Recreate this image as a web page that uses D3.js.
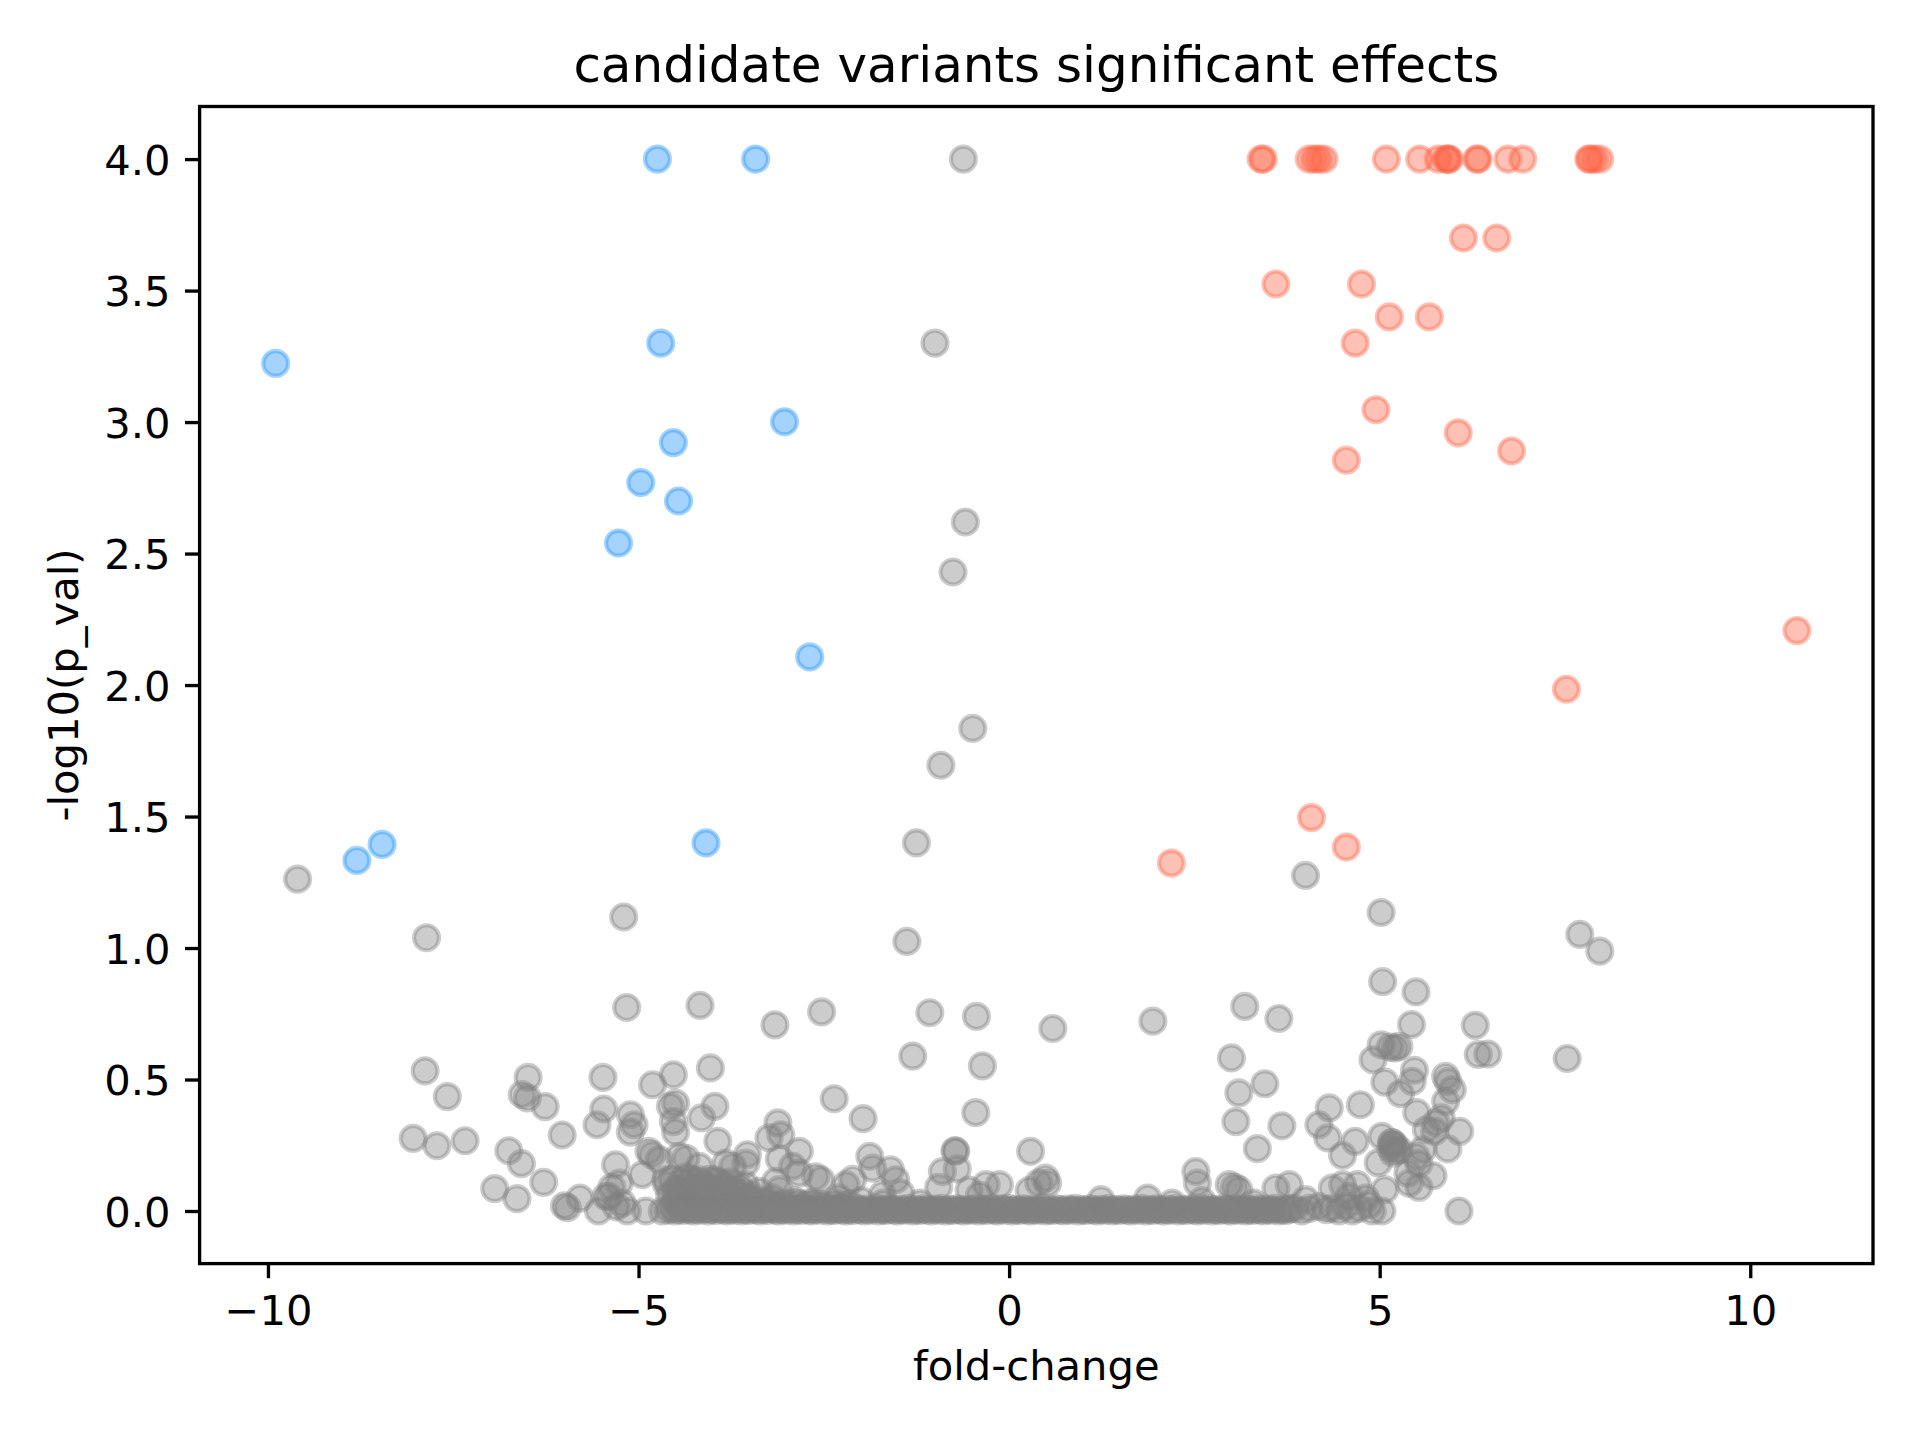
<!DOCTYPE html>
<html>
<head>
<meta charset="utf-8">
<script src="https://cdn.jsdelivr.net/npm/d3@7"></script>
<style>
  body { margin: 0; background: #fff; }
  svg text { font-family: "DejaVu Sans", sans-serif; fill: #000; }
</style>
</head>
<body>
<div id="chart"></div>
<script>
// [fold-change, -log10(p_val)]
var downHits = [
  [-4.745, 4.0], [-3.42, 4.0], [-9.896, 3.223], [-4.70, 3.30], [-3.03, 3.001],
  [-4.53, 2.922], [-4.97, 2.77], [-4.46, 2.70], [-5.27, 2.54], [-2.69, 2.107],
  [-8.46, 1.394], [-8.80, 1.333], [-4.09, 1.40]
];

var upHits = [
  [3.40, 4.0], [3.43, 4.0], [4.05, 4.0], [4.12, 4.0], [4.18, 4.0], [4.25, 4.0],
  [5.09, 4.0], [5.54, 4.0], [5.79, 4.0], [5.90, 4.0], [5.92, 4.0], [5.94, 4.0],
  [6.31, 4.0], [6.33, 4.0], [6.73, 4.0], [6.93, 4.0], [7.82, 4.0], [7.84, 4.0],
  [7.90, 4.0], [7.97, 4.0],
  [6.13, 3.70], [6.58, 3.70], [3.60, 3.525], [4.755, 3.525], [5.13, 3.40],
  [5.67, 3.40], [4.67, 3.30], [4.95, 3.047], [6.06, 2.959], [6.78, 2.89],
  [4.55, 2.855], [10.63, 2.207], [7.52, 1.984], [4.08, 1.496], [4.55, 1.384],
  [2.19, 1.323]
];

var otherVariants = [
  [-0.617, 4.0], [-1.0, 3.30], [-0.59, 2.62], [-0.757, 2.43], [-0.49, 1.835],
  [-0.92, 1.695], [-1.25, 1.40], [-9.60, 1.262], [-5.20, 1.118], [-7.86, 1.039],
  [-1.38, 1.025], [4.00, 1.276], [5.02, 1.135], [7.70, 1.052], [7.97, 0.988],
  [5.04, 0.872], [5.49, 0.833],
  [-5.16, 0.774], [-4.17, 0.782], [-3.16, 0.708], [-2.53, 0.757], [-1.07, 0.754],
  [-0.44, 0.740], [0.59, 0.694], [1.94, 0.722], [3.18, 0.778], [3.64, 0.732],
  [5.43, 0.709], [6.29, 0.706], [6.33, 0.595], [6.46, 0.597], [7.53, 0.58],
  [5.02, 0.632], [5.14, 0.623], [5.21, 0.62], [5.26, 0.626],
  [4.91, 0.575], [5.47, 0.535], [5.44, 0.493], [5.07, 0.49], [5.28, 0.446],
  [3.0, 0.582], [3.10, 0.449], [3.45, 0.484], [3.06, 0.34], [3.68, 0.324], [3.35, 0.237],
  [5.89, 0.512], [5.92, 0.493], [5.98, 0.461], [5.89, 0.417], [5.83, 0.354],
  [5.74, 0.303], [6.08, 0.303], [5.92, 0.236], [5.72, 0.134], [5.58, 0.233],
  [5.53, 0.18], [6.07, 0.0], [5.53, 0.09], [5.50, 0.374],
  [5.07, 0.081], [4.98, 0.183], [5.16, 0.259], [5.03, 0.284], [5.26, 0.233],
  [5.40, 0.106], [5.38, 0.144], [5.49, 0.208], [5.63, 0.309], [5.76, 0.335],
  [5.15, 0.24], [5.18, 0.22], [5.20, 0.25], [5.22, 0.23], [5.17, 0.26],
  [4.18, 0.328], [4.32, 0.392], [4.30, 0.278], [4.74, 0.404], [4.67, 0.265], [4.50, 0.211],
  [4.36, 0.087], [4.50, 0.10], [4.70, 0.10], [4.59, 0.055], [4.81, 0.049],
  [4.86, 0.024], [4.63, 0.0], [5.03, 0.0], [4.00, 0.043], [4.18, 0.017],
  [4.36, 0.011], [4.54, 0.017],
  [2.52, 0.15], [2.54, 0.106], [2.97, 0.10], [3.04, 0.091], [3.10, 0.081],
  [3.60, 0.087], [3.78, 0.10], [1.24, 0.043], [1.87, 0.049], [0.49, 0.125],
  [0.52, 0.106], [0.27, 0.078], [0.29, 0.227], [-0.13, 0.10],
  [-1.30, 0.589], [-0.36, 0.552], [-0.45, 0.374], [-0.72, 0.227], [-0.73, 0.23],
  [-0.90, 0.15], [-0.70, 0.16], [-0.95, 0.09], [-0.54, 0.08], [-0.31, 0.10],
  [-0.40, 0.06], [0.40, 0.107],
  [-2.36, 0.427], [-1.97, 0.351], [-1.88, 0.208], [-1.84, 0.163], [-1.60, 0.157],
  [-1.53, 0.119], [-1.46, 0.068], [-1.71, 0.062], [-2.11, 0.12], [-2.20, 0.10],
  [-4.03, 0.544], [-4.53, 0.518], [-4.81, 0.48], [-5.48, 0.508], [-5.47, 0.388],
  [-3.97, 0.398], [-4.50, 0.41], [-4.57, 0.398], [-4.15, 0.354], [-5.11, 0.366],
  [-5.06, 0.328], [-5.11, 0.30], [-4.53, 0.34], [-4.50, 0.30], [-3.93, 0.265],
  [-3.12, 0.335], [-3.08, 0.29], [-3.24, 0.278], [-3.10, 0.198], [-2.83, 0.227],
  [-2.92, 0.17], [-2.83, 0.144], [-2.61, 0.13], [-2.54, 0.119], [-3.15, 0.113],
  [-3.10, 0.081], [-3.37, 0.075],
  [-4.82, 0.214], [-4.45, 0.208], [-4.86, 0.227], [-4.72, 0.195], [-4.36, 0.20],
  [-5.31, 0.176], [-5.26, 0.106], [-4.95, 0.138], [-5.44, 0.055], [-5.22, 0.03],
  [-5.15, 0.0], [-4.90, 0.0], [-4.68, 0.0],
  [-3.55, 0.182], [-3.53, 0.214], [-3.73, 0.17], [-3.82, 0.182], [-4.63, 0.119],
  [-4.36, 0.13], [-4.18, 0.119], [-3.96, 0.119], [-4.18, 0.17],
  [-4.45, 0.08], [-4.30, 0.06], [-4.10, 0.09], [-3.90, 0.05], [-3.70, 0.07],
  [-4.50, 0.04], [-4.20, 0.03], [-3.40, 0.04], [-3.20, 0.05], [-2.90, 0.04],
  [-2.70, 0.03], [-2.30, 0.05], [-2.00, 0.04], [-1.70, 0.03], [-1.20, 0.03],
  [2.20, 0.03], [2.60, 0.04], [3.30, 0.03],
  [-7.88, 0.533], [-7.58, 0.435], [-8.04, 0.276], [-7.72, 0.248], [-7.34, 0.267],
  [-6.49, 0.508], [-6.57, 0.443], [-6.50, 0.43], [-6.26, 0.397], [-5.56, 0.328],
  [-6.03, 0.289], [-6.75, 0.229], [-6.58, 0.18], [-6.28, 0.109], [-6.94, 0.085],
  [-6.64, 0.047], [-6.0, 0.02], [-5.96, 0.013], [-5.79, 0.049], [-5.54, 0.0],
  [-5.36, 0.09], [-5.40, 0.055], [-5.30, 0.016],
  [3.85, 0.01], [3.95, 0.0], [4.05, 0.01], [4.28, 0.005], [4.45, 0.0], [4.72, 0.01], [4.90, 0.0]
];

// thick knot of variants just left of -3.5, and the slightly raised run after it
var leftKnot = [
  [-4.62, 0.10], [-4.58, 0.06], [-4.55, 0.12], [-4.50, 0.08], [-4.47, 0.03], [-4.43, 0.11],
  [-4.39, 0.07], [-4.35, 0.10], [-4.32, 0.04], [-4.28, 0.12], [-4.24, 0.08], [-4.20, 0.11],
  [-4.16, 0.05], [-4.12, 0.10], [-4.08, 0.07], [-4.04, 0.12], [-4.00, 0.09], [-3.96, 0.05],
  [-3.92, 0.11], [-3.88, 0.08], [-3.84, 0.10], [-3.80, 0.06], [-3.76, 0.11], [-3.72, 0.08],
  [-3.68, 0.04], [-3.64, 0.09], [-3.60, 0.07], [-3.56, 0.10], [-3.52, 0.05], [-3.48, 0.06],
  [-3.44, 0.03], [-3.35, 0.02], [-3.25, 0.035], [-3.15, 0.02], [-3.05, 0.03], [-2.95, 0.025],
  [-2.85, 0.03], [-2.75, 0.02], [-2.65, 0.03], [-2.55, 0.025], [-2.45, 0.02], [-2.35, 0.03],
  [-2.25, 0.02], [-2.15, 0.025]
];

// the solid run of variants sitting on p ~ 1
var nearZero = [
  [-4.60, 0.004], [-4.55, 0.01], [-4.51, 0], [-4.46, 0.006], [-4.40, 0.002], [-4.36, 0.01],
  [-4.31, 0.004], [-4.25, 0], [-4.21, 0.008], [-4.16, 0.003], [-4.10, 0.01], [-4.06, 0],
  [-4.01, 0.006], [-3.95, 0.002], [-3.91, 0.009], [-3.86, 0.004], [-3.80, 0], [-3.76, 0.007],
  [-3.70, 0.003], [-3.66, 0.01], [-3.61, 0], [-3.55, 0.005], [-3.51, 0.002], [-3.45, 0.009],
  [-3.41, 0.004], [-3.36, 0], [-3.30, 0.007], [-3.26, 0.002], [-3.20, 0.01], [-3.16, 0.004],
  [-3.11, 0], [-3.05, 0.006], [-3.01, 0.003], [-2.95, 0.009], [-2.91, 0], [-2.86, 0.005],
  [-2.80, 0.002], [-2.76, 0.008], [-2.70, 0.004], [-2.66, 0], [-2.61, 0.007], [-2.55, 0.003],
  [-2.51, 0.01], [-2.45, 0], [-2.41, 0.005], [-2.36, 0.002], [-2.30, 0.008], [-2.26, 0.004],
  [-2.20, 0], [-2.16, 0.006], [-2.11, 0.002], [-2.05, 0.009], [-2.01, 0.004], [-1.95, 0],
  [-1.91, 0.007], [-1.86, 0.003], [-1.80, 0.01], [-1.76, 0], [-1.70, 0.005], [-1.66, 0.002],
  [-1.61, 0.008], [-1.55, 0.004], [-1.51, 0], [-1.45, 0.006], [-1.41, 0.003], [-1.36, 0.009],
  [-1.30, 0], [-1.26, 0.005], [-1.20, 0.002], [-1.16, 0.008], [-1.11, 0.004], [-1.05, 0],
  [-1.01, 0.007], [-0.95, 0.003], [-0.91, 0.01], [-0.86, 0], [-0.80, 0.005], [-0.76, 0.002],
  [-0.70, 0.008], [-0.66, 0.004], [-0.61, 0], [-0.55, 0.006], [-0.51, 0.003], [-0.45, 0.009],
  [-0.41, 0], [-0.36, 0.005], [-0.30, 0.002], [-0.26, 0.008], [-0.20, 0.004], [-0.16, 0],
  [-0.11, 0.007], [-0.05, 0.003], [-0.01, 0.01], [0.04, 0], [0.09, 0.005], [0.14, 0.002],
  [0.19, 0.008], [0.24, 0.004], [0.29, 0], [0.34, 0.006], [0.39, 0.003], [0.44, 0.009],
  [0.49, 0], [0.54, 0.005], [0.59, 0.002], [0.64, 0.008], [0.69, 0.004], [0.74, 0],
  [0.79, 0.007], [0.84, 0.003], [0.89, 0.01], [0.94, 0], [0.99, 0.005], [1.04, 0.002],
  [1.09, 0.008], [1.14, 0.004], [1.19, 0], [1.24, 0.006], [1.29, 0.003], [1.34, 0.009],
  [1.39, 0], [1.44, 0.005], [1.49, 0.002], [1.54, 0.008], [1.59, 0.004], [1.64, 0],
  [1.69, 0.007], [1.74, 0.003], [1.79, 0.01], [1.84, 0], [1.89, 0.005], [1.94, 0.002],
  [1.99, 0.008], [2.04, 0.004], [2.09, 0], [2.14, 0.006], [2.19, 0.003], [2.24, 0.009],
  [2.29, 0], [2.34, 0.005], [2.39, 0.002], [2.44, 0.008], [2.49, 0.004], [2.54, 0],
  [2.59, 0.007], [2.64, 0.003], [2.69, 0.01], [2.74, 0], [2.79, 0.005], [2.84, 0.002],
  [2.89, 0.008], [2.94, 0.004], [2.99, 0], [3.04, 0.006], [3.09, 0.003], [3.14, 0.009],
  [3.19, 0], [3.24, 0.005], [3.29, 0.002], [3.34, 0.008], [3.39, 0.004], [3.44, 0],
  [3.49, 0.007], [3.54, 0.003], [3.59, 0.01], [3.64, 0], [3.69, 0.005], [3.74, 0.002],
  [3.79, 0.008]
];

var xTicks = [-10, -5, 0, 5, 10];
var yTicks = [0, 0.5, 1.0, 1.5, 2.0, 2.5, 3.0, 3.5, 4.0];

var width = 1920, height = 1440;
var margin = { left: 199.6, right: 47, top: 106.5, bottom: 176.4 };
var pt = 300 / 72; // figure saved at 300 dpi

var svg = d3.select('#chart').append('svg')
  .attr('width', width)
  .attr('height', height)
  .style('background', '#fff');

var greyPts = otherVariants.concat(leftKnot, nearZero);
var allPts = greyPts.concat(downHits, upHits);
var xExt = d3.extent(allPts, function(d) { return d[0]; });
var yExt = d3.extent(allPts, function(d) { return d[1]; });
var xPad = (xExt[1] - xExt[0]) * 0.05, yPad = (yExt[1] - yExt[0]) * 0.05;

var x = d3.scaleLinear()
  .domain([xExt[0] - xPad, xExt[1] + xPad])
  .range([margin.left, width - margin.right]);
var y = d3.scaleLinear()
  .domain([yExt[0] - yPad, yExt[1] + yPad])
  .range([height - margin.bottom, margin.top]);

var plot = svg.append('g');

function drawGroup(data, color) {
  plot.append('g').selectAll('circle')
    .data(data)
    .enter().append('circle')
    .attr('cx', function(d) { return x(d[0]); })
    .attr('cy', function(d) { return y(d[1]); })
    .attr('r', 3 * pt)
    .attr('fill', color)
    .attr('fill-opacity', 0.4)
    .attr('stroke', color)
    .attr('stroke-opacity', 0.4)
    .attr('stroke-width', 1 * pt);
}

drawGroup(greyPts, 'grey');
drawGroup(downHits, 'dodgerblue');
drawGroup(upHits, 'tomato');

// axes
var xAxis = svg.append('g')
  .attr('transform', 'translate(0,' + (height - margin.bottom) + ')')
  .call(d3.axisBottom(x).tickValues(xTicks).tickFormat(d3.format('d'))
    .tickSize(3.5 * pt).tickPadding(3.5 * pt));
var yAxis = svg.append('g')
  .attr('transform', 'translate(' + margin.left + ',0)')
  .call(d3.axisLeft(y).tickValues(yTicks).tickFormat(d3.format('.1f'))
    .tickSize(3.5 * pt).tickPadding(3.5 * pt));

[xAxis, yAxis].forEach(function(a) {
  a.select('.domain').remove();
  a.attr('font-size', null).attr('font-family', null);
  a.selectAll('.tick line').attr('stroke', '#000').attr('stroke-width', 0.8 * pt);
  a.selectAll('.tick text').style('font-size', (10 * pt) + 'px');
});
xAxis.selectAll('.tick text').attr('dy', null).attr('y', 61);
yAxis.selectAll('.tick text').attr('dy', '0.36em');

svg.append('rect')
  .attr('x', margin.left)
  .attr('y', margin.top)
  .attr('width', width - margin.left - margin.right)
  .attr('height', height - margin.top - margin.bottom)
  .attr('fill', 'none')
  .attr('stroke', '#000')
  .attr('stroke-width', 0.8 * pt);

var cx = (margin.left + width - margin.right) / 2;

svg.append('text')
  .attr('x', cx)
  .attr('y', 82)
  .attr('text-anchor', 'middle')
  .style('font-size', (12 * pt) + 'px')
  .text('candidate variants significant effects');

svg.append('text')
  .attr('x', cx)
  .attr('y', 1380)
  .attr('text-anchor', 'middle')
  .style('font-size', (10 * pt) + 'px')
  .text('fold-change');

svg.append('text')
  .attr('transform', 'translate(78,' + ((margin.top + height - margin.bottom) / 2) + ') rotate(-90)')
  .attr('text-anchor', 'middle')
  .style('font-size', (10 * pt) + 'px')
  .text('-log10(p_val)');
</script>
</body>
</html>
